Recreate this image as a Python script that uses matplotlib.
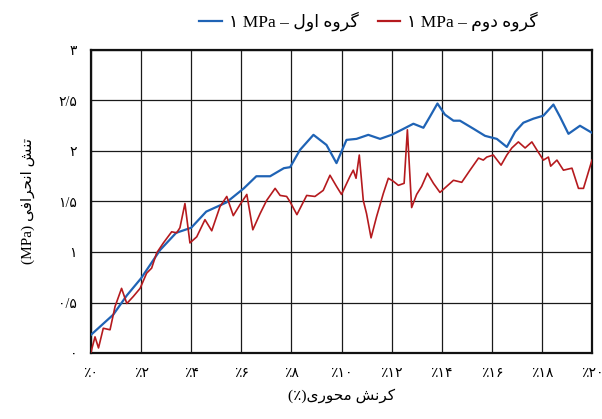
import matplotlib
matplotlib.use("Agg")
import matplotlib.pyplot as plt
from matplotlib.font_manager import FontProperties
from matplotlib.lines import Line2D

# --- Data ----------------------------------------------------------------
strain_1 = [0, 0.89, 1.43, 2.0, 2.76, 3.4, 4.0, 4.6, 5.4, 6.1, 6.6, 7.15, 7.7, 7.95,
            8.34, 8.88, 9.4, 9.8, 10.2, 10.6, 11.07, 11.54, 12.0, 12.4, 12.87, 13.27,
            13.53, 13.83, 14.13, 14.47, 14.73, 15.27, 15.73, 16.2, 16.6, 16.93, 17.26,
            17.66, 18.06, 18.46, 18.72, 19.06, 19.52, 20.0]
stress_1 = [0.18, 0.38, 0.57, 0.74, 1.02, 1.19, 1.24, 1.40, 1.49, 1.63, 1.75, 1.75,
            1.83, 1.84, 2.01, 2.16, 2.06, 1.88, 2.11, 2.12, 2.16, 2.12, 2.16, 2.21,
            2.27, 2.23, 2.34, 2.47, 2.36, 2.30, 2.30, 2.22, 2.15, 2.12, 2.04, 2.19,
            2.28, 2.32, 2.35, 2.46, 2.34, 2.17, 2.25, 2.18]

strain_2 = [0, 0.16, 0.3, 0.49, 0.76, 0.96, 1.22, 1.43, 1.69, 1.96, 2.22, 2.42, 2.62,
            2.89, 3.22, 3.42, 3.55, 3.75, 3.95, 4.22, 4.55, 4.82, 5.15, 5.42, 5.68,
            5.95, 6.22, 6.46, 6.75, 7.01, 7.35, 7.55, 7.81, 7.94, 8.22, 8.61, 8.94,
            9.27, 9.54, 9.8, 10.0, 10.34, 10.47, 10.58, 10.71, 10.87, 11.0, 11.18,
            11.4, 11.67, 11.87, 12.07, 12.27, 12.5, 12.63, 12.8, 13.0, 13.2, 13.43,
            13.67, 13.93, 14.2, 14.47, 14.8, 15.13, 15.47, 15.66, 15.8, 16.06, 16.37,
            16.6, 16.8, 17.06, 17.33, 17.6, 17.8, 18.06, 18.26, 18.35, 18.6, 18.86,
            19.2, 19.46, 19.66, 20.0]
stress_2 = [0.01, 0.16, 0.05, 0.245, 0.23, 0.46, 0.64, 0.49, 0.56, 0.64, 0.79, 0.84,
            0.99, 1.09, 1.20, 1.19, 1.24, 1.48, 1.09, 1.15, 1.32, 1.21, 1.45, 1.55,
            1.36, 1.47, 1.57, 1.22, 1.38, 1.51, 1.63, 1.56, 1.55, 1.50, 1.37, 1.56,
            1.55, 1.61, 1.76, 1.65, 1.57, 1.75, 1.81, 1.73, 1.96, 1.51, 1.38, 1.14,
            1.35, 1.58, 1.73, 1.70, 1.66, 1.68, 2.21, 1.44, 1.57, 1.65, 1.78, 1.68,
            1.59, 1.65, 1.71, 1.69, 1.81, 1.93, 1.91, 1.94, 1.96, 1.86, 1.96, 2.03,
            2.09, 2.03, 2.09, 2.01, 1.91, 1.94, 1.85, 1.91, 1.81, 1.83, 1.63, 1.63,
            1.91]

x_ticks = list(range(0, 21, 2))
y_ticks = [0, 0.5, 1, 1.5, 2, 2.5, 3]

# Persian text, written as shaped glyphs in visual (left-to-right) order
FA_DIGITS = str.maketrans("0123456789.", "\u06f0\u06f1\u06f2\u06f3\u06f4\u06f5\u06f6\u06f7\u06f8\u06f9/")
y_tick_labels = [("%g" % v).translate(FA_DIGITS) for v in y_ticks]
x_tick_labels = ["\u066a" + str(v).translate(FA_DIGITS) for v in x_ticks]

GROUP = "\ufee9\ufeed\ufeae\ufb94"          # گروه
FIRST = "\ufedd\ufeed\ufe8d"                # اول
SECOND = "\ufee1\ufeed\ufea9"               # دوم
label_1 = "\u06f1 MPa \u2013 " + FIRST + " " + GROUP
label_2 = "\u06f1 MPa \u2013 " + SECOND + " " + GROUP
x_label = "(\u066a)\ufbfc\ufead\ufeee\ufea4\ufee3 \ufeb6\ufee7\ufeae\ufb90"   # کرنش محوری(٪)
y_label = "(MPa) \ufbfd\ufed3\ufe8d\ufeae\ufea4\ufee7\ufe8d \ufeb6\ufee8\ufe97"  # تنش انحرافی (MPa)

BLUE = "#1f63b5"
RED = "#b51a1e"
FONT = ["Liberation Serif", "DejaVu Sans"]

# --- Figure --------------------------------------------------------------
fig = plt.figure(figsize=(6.02, 4.19), dpi=100)
ax = fig.add_axes([91 / 602, 66 / 419, 501 / 602, 303 / 419])

ax.plot(strain_1, stress_1, color=BLUE, linewidth=1.6, zorder=3)
ax.plot(strain_2, stress_2, color=RED, linewidth=1.2, zorder=3)

ax.set_xlim(0, 20)
ax.set_ylim(0, 3)
ax.set_xticks(x_ticks)
ax.set_yticks(y_ticks)
ax.set_xticklabels(x_tick_labels, family=FONT, fontsize=10)
ax.set_yticklabels(y_tick_labels, family=FONT, fontsize=10)
ax.tick_params(length=0, pad=10)
ax.grid(True, color="#1a1a1a", linewidth=0.9)
for spine in ax.spines.values():
    spine.set_linewidth(1.6)
    spine.set_color("#111111")

ax.set_xlabel(x_label, family=FONT, fontsize=11, labelpad=6)
ax.set_ylabel(y_label, family=FONT, fontsize=11, labelpad=17)

handles = [Line2D([], [], color=BLUE, linewidth=1.6),
           Line2D([], [], color=RED, linewidth=1.6)]
fig.legend(handles, [label_1, label_2], loc="upper center",
           bbox_to_anchor=(0.612, 1.01), ncol=2, frameon=False,
           prop=FontProperties(family=FONT, size=12.5),
           handlelength=1.3, handletextpad=0.4, columnspacing=1.1)

plt.savefig("out.png", dpi=100)
plt.close()
